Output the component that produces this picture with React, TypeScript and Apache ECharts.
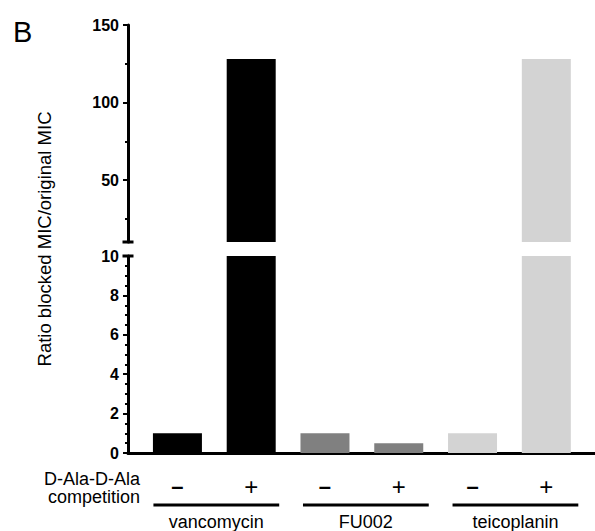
import React, { useEffect, useRef } from "react";
import * as echarts from "echarts";

// ---- data ----
const drugs = ["vancomycin", "FU002", "teicoplanin"];
const drugColors = ["#000000", "#808080", "#d3d3d3"];
const competition = ["-", "+", "-", "+", "-", "+"];
const barDrugIndex = [0, 0, 1, 1, 2, 2];
const ratioValues = [1, 128, 1, 0.5, 1, 128];
const topTicks = [50, 100, 150];
const topMinorTicks = [25, 75, 125];
const yTitle = "Ratio blocked MIC/original MIC";
const rowLabel = "D-Ala-D-Ala\ncompetition";
const panelLetter = "B";

const FONT = "Liberation Sans, Arial, Helvetica, sans-serif";

export default function App() {
  const ref = useRef<HTMLDivElement>(null);

  useEffect(() => {
    document.body.style.margin = "0";
    if (!ref.current) return;
    const chart = echarts.init(ref.current, null, { renderer: "svg" });

    const xMin = -0.67;
    const xMax = 5.66;
    const barData = ratioValues.map((v, i) => ({
      value: [i, v],
      itemStyle: { color: drugColors[barDrugIndex[i]] },
    }));

    const axisLineStyle = { color: "#000", width: 3 };
    const labelStyle = {
      color: "#000",
      fontWeight: "bold" as const,
      fontSize: 16,
      fontFamily: FONT,
      margin: 9,
    };

    chart.setOption({
      animation: false,
      grid: [
        { left: 128, right: 0, top: 25, height: 217 },
        { left: 128, right: 0, top: 256, height: 197 },
      ],
      xAxis: [
        { type: "value", gridIndex: 0, min: xMin, max: xMax, show: false },
        {
          type: "value",
          gridIndex: 1,
          min: xMin,
          max: xMax,
          axisLine: { show: true, onZero: false, lineStyle: axisLineStyle },
          axisTick: { show: false },
          splitLine: { show: false },
          axisLabel: {
            customValues: competition.map((_, i) => i),
            margin: 22,
            formatter: (v: number) => {
              const s = competition[Math.round(v)];
              return s === "-" ? "{m|–}" : "{p|+}";
            },
            rich: {
              m: { fontSize: 22, fontWeight: "bold", fontFamily: FONT, color: "#000", lineHeight: 22 },
              p: { fontSize: 24, fontFamily: FONT, color: "#000", lineHeight: 22 },
            },
          },
        },
      ],
      yAxis: [
        {
          type: "value",
          gridIndex: 0,
          position: "left",
          min: 10,
          max: 150,
          axisLine: {
            show: true,
            onZero: false,
            lineStyle: axisLineStyle,
            symbol: ["rect", "none"],
            symbolSize: [11, 3],
          },
          axisTick: { show: true, customValues: topTicks, length: 5, lineStyle: { width: 2, color: "#000" } },
          axisLabel: { ...labelStyle, customValues: topTicks },
          splitLine: { show: false },
        },
        {
          type: "value",
          gridIndex: 0,
          position: "left",
          min: 10,
          max: 150,
          axisLine: { show: false, onZero: false },
          axisTick: { show: true, customValues: topMinorTicks, length: 3, lineStyle: { width: 2, color: "#000" } },
          axisLabel: { show: false },
          splitLine: { show: false },
        },
        {
          type: "value",
          gridIndex: 1,
          position: "left",
          min: 0,
          max: 10,
          interval: 2,
          axisLine: {
            show: true,
            onZero: false,
            lineStyle: axisLineStyle,
            symbol: ["none", "rect"],
            symbolSize: [11, 3],
          },
          axisTick: { show: true, length: 5, lineStyle: { width: 2, color: "#000" } },
          minorTick: { show: true, splitNumber: 4, length: 3, lineStyle: { width: 2, color: "#000" } },
          axisLabel: labelStyle,
          splitLine: { show: false },
        },
      ],
      series: [
        { type: "bar", xAxisIndex: 0, yAxisIndex: 0, barWidth: 49, data: barData, clip: true },
        { type: "bar", xAxisIndex: 1, yAxisIndex: 2, barWidth: 49, data: barData, clip: true },
      ],
    });

    const px = (v: number) => chart.convertToPixel({ xAxisIndex: 1 }, v) as number;
    const graphics: any[] = [
      {
        type: "text",
        left: 13,
        top: 17,
        style: { text: panelLetter, fontSize: 29, fontFamily: FONT, fill: "#000" },
      },
      {
        type: "text",
        x: 44,
        y: 239,
        rotation: Math.PI / 2,
        style: {
          text: yTitle,
          fontSize: 18.5,
          fontFamily: FONT,
          fill: "#000",
          align: "center",
          verticalAlign: "middle",
        },
      },
      {
        type: "text",
        x: 140,
        y: 488,
        style: {
          text: rowLabel,
          fontSize: 18,
          lineHeight: 18,
          fontFamily: FONT,
          fill: "#000",
          align: "right",
          verticalAlign: "middle",
        },
      },
    ];
    drugs.forEach((name, d) => {
      const idx = barDrugIndex.map((b, i) => (b === d ? i : -1)).filter((i) => i >= 0);
      const x1 = px(idx[0]) - 24 + d * 2;
      const x2 = px(idx[idx.length - 1]) + 28 + d * 2;
      graphics.push({
        type: "line",
        shape: { x1, y1: 505, x2, y2: 505 },
        style: { stroke: "#000", lineWidth: 3 },
      });
      graphics.push({
        type: "text",
        x: (x1 + x2) / 2,
        y: 522,
        style: {
          text: name,
          fontSize: 18,
          fontFamily: FONT,
          fill: "#000",
          align: "center",
          verticalAlign: "middle",
        },
      });
    });
    chart.setOption({ graphic: graphics });

    return () => chart.dispose();
  }, []);

  return <div ref={ref} style={{ width: 595, height: 531 }} />;
}
